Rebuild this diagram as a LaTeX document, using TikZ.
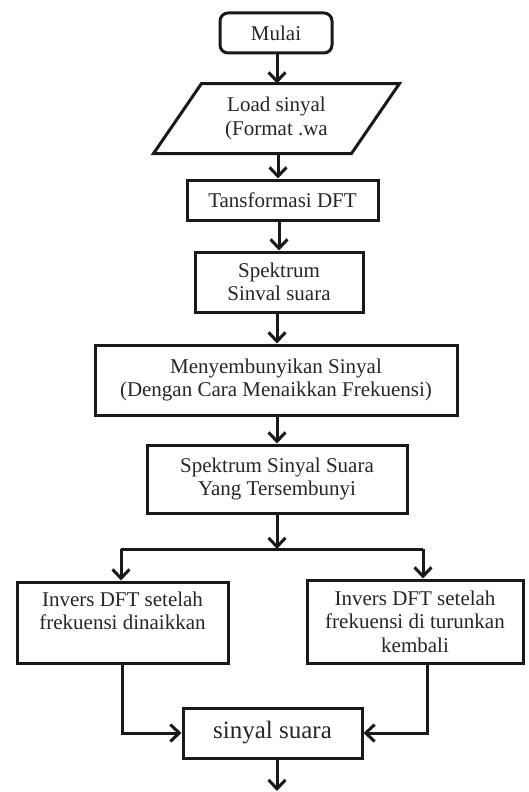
\documentclass[tikz,border=0pt]{standalone}
\usepackage{fontspec}
\setmainfont{Liberation Serif}
\usetikzlibrary{arrows.meta,calc}
\begin{document}
\begin{tikzpicture}[x=1pt,y=-1pt,
  box/.style={draw=black!90, line width=3pt, rectangle, align=center, inner sep=2pt,
    font=\fontsize{21}{23.5}\selectfont, text=black!85},
  arr/.style={draw=black!90, line width=3pt, -{Straight Barb[length=9pt,width=17pt,line width=3pt]}},
  ln/.style={draw=black!90, line width=3pt}]
\useasboundingbox (0,0) rectangle (528,792);
\fill[white] (0,0) rectangle (528,792);

\node[box, rounded corners=8pt, minimum width=112pt, minimum height=40pt] (mulai) at (276,33) {Mulai};
\node[box, draw=none, minimum width=195pt, minimum height=67pt] (load) at (276.5,118.5) {Load sinyal\\(Format .wa};
\draw[ln, line join=miter] ($(load.south west)+(-24,0)$) -- ($(load.south east)+(-24,0)$)
   -- ($(load.north east)+(24,0)$) -- ($(load.north west)+(24,0)$) -- cycle;
\node[box, minimum width=191pt, minimum height=40pt] (dft) at (282.5,200) {Tansformasi DFT};
\node[box, minimum width=168pt, minimum height=60pt] (spek) at (279,282) {Spektrum\\Sinval suara};
\node[box, minimum width=362pt, minimum height=70pt] (sembunyi) at (276,380) {Menyembunyikan Sinyal\\(Dengan Cara Menaikkan Frekuensi)};
\node[box, minimum width=260pt, minimum height=68pt] (spek2) at (277,479) {Spektrum Sinyal Suara\\Yang Tersembunyi};
\coordinate (branch) at (277,549);
\coordinate (bl) at (121,549);
\coordinate (br) at (423,549);
\node[box, minimum width=211pt, minimum height=81pt] (left) at (122.5,622.5) {Invers DFT setelah\\frekuensi dinaikkan\\\mbox{}};
\node[box, minimum width=216pt, minimum height=83pt] (right) at (415,621.5) {Invers DFT setelah\\frekuensi di turunkan\\kembali};
\node[box, minimum width=179pt, minimum height=50pt, font=\fontsize{25}{28}\selectfont] (sinyal) at (272.5,733) {sinyal suara};
\coordinate (end) at (277,791);

\draw[arr] (277,0 |- mulai.south) -- (277,0 |- load.north);
\draw[arr] (278,0 |- load.south) -- (278,0 |- dft.north);
\draw[arr] (279,0 |- dft.south) -- (279,0 |- spek.north);
\draw[arr] (277,0 |- spek.south) -- (277,0 |- sembunyi.north);
\draw[arr] (277,0 |- sembunyi.south) -- (277,0 |- spek2.north);
\draw[arr] (277,0 |- spek2.south) -- (branch);
\draw[ln] (bl) -- (br);
\draw[arr] (bl) -- (bl |- left.north);
\draw[arr] (br) -- (br |- right.north);
\draw[arr] (122,0 |- left.south) -- (122,0 |- sinyal.west) -- (sinyal.west);
\draw[arr] (427,0 |- right.south) -- (427,0 |- sinyal.east) -- (sinyal.east);
\draw[arr] (end |- sinyal.south) -- (end);
\end{tikzpicture}
\end{document}
